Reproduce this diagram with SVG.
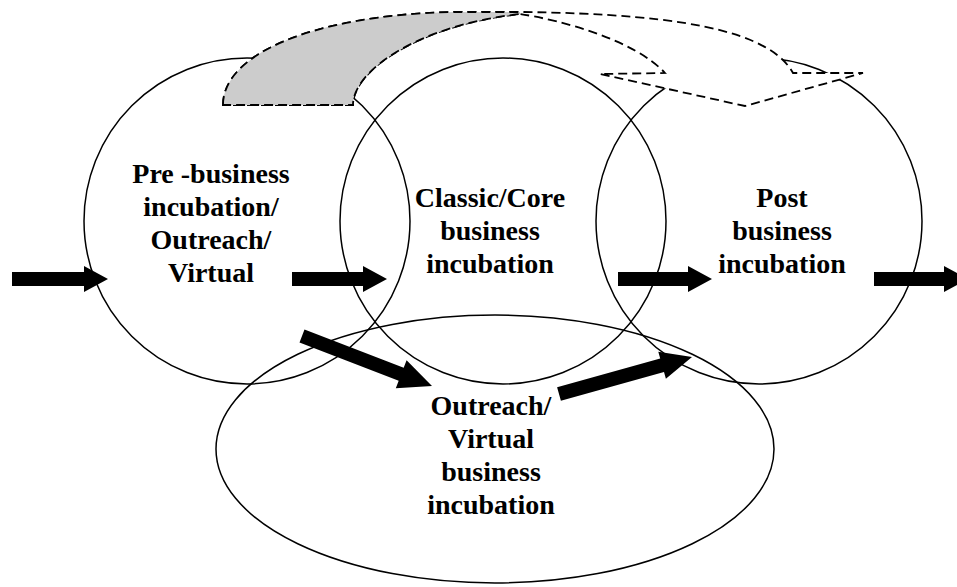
<svg xmlns="http://www.w3.org/2000/svg" width="957" height="587" viewBox="0 0 957 587">
  <style>
    .ring { fill: none; stroke: #000; stroke-width: 1.5; }
    .label { font-family: "Liberation Serif", "Times New Roman", serif; font-weight: bold; font-size: 28px; fill: #000; text-anchor: middle; }
    .block { fill: #000; stroke: none; }
    .dash { stroke: #000; stroke-width: 1.8; stroke-dasharray: 9 5; stroke-linejoin: miter; }
  </style>
  <rect width="957" height="587" fill="#fff"/>

  <g id="node-pre">
    <circle class="ring" cx="247" cy="221" r="163"/>
    <text class="label" x="211" y="183">Pre -business</text>
    <text class="label" x="211" y="216">incubation/</text>
    <text class="label" x="211" y="249">Outreach/</text>
    <text class="label" x="211" y="282">Virtual</text>
  </g>

  <g id="node-classic">
    <circle class="ring" cx="503" cy="221" r="163"/>
    <text class="label" x="490" y="207">Classic/Core</text>
    <text class="label" x="490" y="240">business</text>
    <text class="label" x="490" y="273">incubation</text>
  </g>

  <g id="node-post">
    <circle class="ring" cx="759" cy="221" r="163"/>
    <text class="label" x="782" y="207">Post</text>
    <text class="label" x="782" y="240">business</text>
    <text class="label" x="782" y="273">incubation</text>
  </g>

  <g id="node-outreach">
    <ellipse class="ring" cx="495" cy="449" rx="279" ry="134"/>
    <text class="label" x="491" y="415">Outreach/</text>
    <text class="label" x="491" y="448">Virtual</text>
    <text class="label" x="491" y="481">business</text>
    <text class="label" x="491" y="514">incubation</text>
  </g>

  <g id="connectors">
    <!-- curved arrow over the top, from pre-business to post-business -->
    <g id="curved-arrow">
      <path class="dash" fill="#fff"
            d="M223,105 C223,55 310,16 450,12 C640,10 765,22 793,73 L863,73 L745,106 L600,74 L665,73
               C635,40 560,20 520,14 C420,25 353,70 353,105 Z"/>
      <!-- shaded back face of the ribbon -->
      <path class="dash" fill="#cccccc"
            d="M223,105 C223,55 310,16 450,12 L520,12 L520,14 C420,25 353,70 353,105 Z"/>
    </g>

    <!-- horizontal block arrows -->
    <polygon class="block" points="12,272 84,272 84,266 108,279 84,292 84,286 12,286"/>
    <polygon class="block" points="292,272 363,272 363,266 387,279 363,292 363,286 292,286"/>
    <polygon class="block" points="618,272 688,272 688,266 712,279 688,292 688,286 618,286"/>
    <polygon class="block" points="874,272 944,272 944,266 968,279 944,292 944,286 874,286"/>

    <!-- diagonal block arrows via the outreach stage -->
    <polygon class="block" points="304.5,329.5 403.7,367.7 406.6,360.2 432,386 395.8,388.2 398.7,380.7 299.5,342.5"/>
    <polygon class="block" points="557.1,387.3 660.2,358.6 658.3,351.8 692,357 665.9,378.8 664,372 560.9,400.7"/>
  </g>
</svg>
